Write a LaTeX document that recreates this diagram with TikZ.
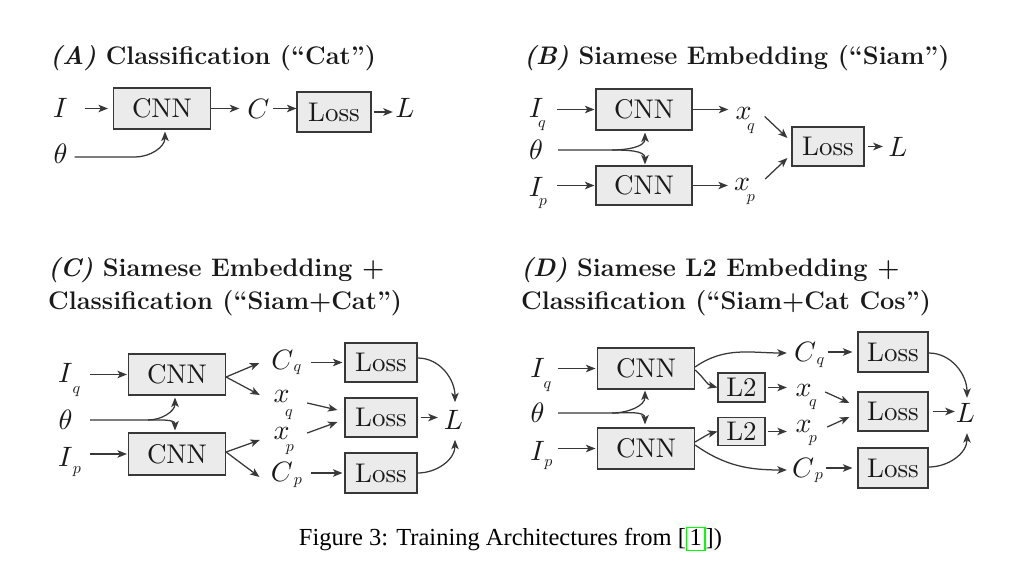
\documentclass[tikz,border=0pt]{standalone}
\usepackage{fontspec}
\newfontfamily\capfont{Liberation Serif}
\newfontfamily\boxfont{lmroman10-regular}[Extension=.otf]
\DeclareFontFamily{OML}{cmm}{\skewchar\font'177}
\DeclareFontShape{OML}{cmm}{m}{it}{<-> cmmi10}{}
\usetikzlibrary{arrows.meta}
\definecolor{ln}{HTML}{383838}
\definecolor{bx}{HTML}{EBEBEB}
\definecolor{tx}{HTML}{1A1A1A}
\definecolor{lnk}{HTML}{00FF00}
\newcommand\mfont{\fontsize{28}{30}\selectfont}
\newcommand\sfont{\fontsize{16}{18}\selectfont}
\newcommand\bfont{\boxfont\fontsize{27}{30}\selectfont}
\newcommand\tfont{\fontsize{25.4}{30}\selectfont\bfseries}
\tikzset{
  box/.style={draw=ln, fill=bx, line width=1.15pt, inner sep=0pt, font=\bfont, text=tx},
  cnn/.style={box, minimum width=97pt, minimum height=41pt},
  loss/.style={box, minimum width=72pt, minimum height=39pt},
  ltwo/.style={box, minimum width=47pt, minimum height=29pt},
  sym/.style={inner sep=0pt, font=\mfont, text=tx},
  sub/.style={inner sep=0pt, font=\sfont, text=tx},
  arr/.style={draw=ln, line width=1.25pt, -{Stealth[length=9.5pt,width=7.5pt,inset=2.5pt]}},
  ttl/.style={inner sep=0pt, anchor=base west, font=\tfont, text=tx},
}
\begin{document}
\begin{tikzpicture}[x=1pt,y=-1pt]
\fill[white] (0,0) rectangle (1025,580);
\useasboundingbox (0,0) rectangle (1025,580);

% ---------------- titles
\node[ttl] (tA) at (50,65) {\textit{(A)} Classification (``Cat'')};
\node[ttl] (tB) at (524,65) {\textit{(B)} Siamese Embedding (``Siam'')};
\node[ttl] (tC1) at (48,276.5) {\textit{(C)} Siamese Embedding +};
\node[ttl] (tC2) at (48,309.5) {Classification (``Siam+Cat'')};
\node[ttl] (tD1) at (521,276.5) {\textit{(D)} Siamese L2 Embedding +};
\node[ttl] (tD2) at (521,309.5) {Classification (``Siam+Cat Cos'')};

% ---------------- panel A
\node[sym] (IA) at (60.5,108) {$I$};
\node[cnn] (cnnA) at (162,108.5) {CNN};
\node[sym] (CA) at (258.5,108.5) {$C$};
\node[loss, minimum width=74pt, minimum height=40pt] (lossA) at (334,112) {Loss};
\node[sym] (LA) at (405,107.5) {$L$};
\node[sym] (thA) at (60.5,153.5) {$\theta$};
\coordinate (spA) at (135,157);
\draw[arr, shorten <=17pt, shorten >=5pt] (cnnA.west -| IA.east) -- (cnnA.west);
\draw[arr, shorten >=8pt] (cnnA.east) -- (cnnA.east -| CA.west);
\draw[arr, shorten <=3pt] (CA.east) -- (CA.east -| lossA.west);
\draw[arr, shorten <=2pt, shorten >=2.5pt] (lossA.east) -- (lossA.east -| LA.west);
\draw[arr] ([shift={(7,3.5)}]thA.east) -- (spA) to[out=0,in=-90] ([shift={(3,2)}]cnnA.south);

% ---------------- panel B
\node[sym] (IqB) at (536,108) {$I$};
\node[sub] (IqBs) at (542,125.5) {$q$};
\node[cnn, minimum width=96pt] (cnnB1) at (644,109.5) {CNN};
\node[sym] (xqB) at (743.5,113.5) {$x$};
\node[sub] (xqBs) at (751,128.5) {$q$};
\node[loss] (lossB) at (828,146.5) {Loss};
\node[sym] (LB) at (898,147) {$L$};
\node[sym] (thB) at (536,150) {$\theta$};
\node[sym] (IpB) at (536,187) {$I$};
\node[sub] (IpBs) at (543,203.5) {$p$};
\node[cnn, minimum width=96pt, minimum height=39pt] (cnnB2) at (644,185.5) {CNN};
\node[sym] (xpB) at (742,184) {$x$};
\node[sub] (xpBs) at (751,200) {$p$};
\coordinate (spB) at (612,150);
\draw[arr, shorten <=14pt, shorten >=1pt] (cnnB1.west -| IqB.east) -- (cnnB1.west);
\draw[arr, shorten <=14pt, shorten >=1pt] (cnnB2.west -| IpB.east) -- (cnnB2.west);
\draw[arr, shorten >=7pt] (cnnB1.east) -- (cnnB1.east -| xqB.west);
\draw[arr, shorten >=6pt] (cnnB2.east) -- (cnnB2.east -| xpB.west);
\draw[arr] ([shift={(13,3)}]xqB.east) -- ([shift={(-4,-8.5)}]lossB.west);
\draw[arr] ([shift={(15,-5)}]xpB.east) -- ([shift={(-4,11.5)}]lossB.west);
\draw[arr, shorten <=3pt, shorten >=5.5pt] (lossB.east) -- (lossB.east -| LB.west);
\draw[arr, shorten <=15pt] (thB.east) -- (spB) to[out=0,in=-90] ([shift={(1,2)}]cnnB1.south);
\draw[arr] (spB) to[out=0,in=90] ([shift={(1,-1)}]cnnB2.north);

% ---------------- panel C
\node[sym] (IqC) at (65.5,373) {$I$};
\node[sub] (IqCs) at (76.5,391.5) {$q$};
\node[cnn] (cnnC1) at (177,374.5) {CNN};
\node[sym] (thC) at (65.5,420) {$\theta$};
\node[sym] (IpC) at (65.5,457) {$I$};
\node[sub] (IpCs) at (77,472) {$p$};
\node[cnn, minimum height=42pt] (cnnC2) at (177,454) {CNN};
\node[sym] (CqC) at (282.5,360) {$C$};
\node[sub] (CqCs) at (297.5,369.5) {$q$};
\node[sym] (xqC) at (281.5,396.5) {$x$};
\node[sub] (xqCs) at (289,414.5) {$q$};
\node[sym] (xpC) at (281.5,433.5) {$x$};
\node[sub] (xpCs) at (290,450) {$p$};
\node[sym] (CpC) at (282,472) {$C$};
\node[sub] (CpCs) at (298,482.5) {$p$};
\node[loss] (lossC1) at (381,362.5) {Loss};
\node[loss] (lossC2) at (381,417.5) {Loss};
\node[loss, minimum height=40pt] (lossC3) at (381,473) {Loss};
\node[sym] (LC) at (453.5,420) {$L$};
\coordinate (spC) at (148,420);
\draw[arr, shorten <=17pt, shorten >=1pt] (cnnC1.west -| IqC.east) -- (cnnC1.west);
\draw[arr, shorten <=17pt, shorten >=1pt] (cnnC2.west -| IpC.east) -- (cnnC2.west);
\draw[arr, shorten <=17.5pt] (thC.east) -- (spC) to[out=0,in=-90] ([shift={(-2,2)}]cnnC1.south);
\draw[arr] (spC) to[out=0,in=90] ([shift={(-2,-2)}]cnnC2.north);
\draw[arr] ([shift={(0,2.5)}]cnnC1.east) -- ([shift={(-12,3)}]CqC.west);
\draw[arr] ([shift={(0,2.5)}]cnnC1.east) -- ([shift={(-13.5,-1.5)}]xqC.west);
\draw[arr] ([shift={(0,-2)}]cnnC2.east) -- ([shift={(-13.5,6.5)}]xpC.west);
\draw[arr] ([shift={(0,-2)}]cnnC2.east) -- ([shift={(-11.3,5)}]CpC.west);
\draw[arr, shorten <=9pt, shorten >=2pt] (lossC1.west -| CqCs.east) -- (lossC1.west);
\draw[arr, shorten <=8.5pt, shorten >=2pt] (lossC3.west -| CpCs.east) -- (lossC3.west);
\draw[arr] ([shift={(17.5,6.5)}]xqC.east) -- ([shift={(-7,-7.5)}]lossC2.west);
\draw[arr] ([shift={(17.5,-0.5)}]xpC.east) -- ([shift={(-7,4.5)}]lossC2.west);
\draw[arr, shorten <=3pt, shorten >=6pt] (lossC2.east) -- (lossC2.east -| LC.west);
\draw[arr] ([shift={(0,-4.5)}]lossC1.east) to[out=0,in=90] ([shift={(1.5,-8)}]LC.north);
\draw[arr] (lossC3.east) to[out=0,in=-90] ([shift={(1.5,10)}]LC.south);

% ---------------- panel D
\node[sym] (IqD) at (537.5,368) {$I$};
\node[sub] (IqDs) at (547.5,386.5) {$q$};
\node[cnn] (cnnD1) at (646,368.5) {CNN};
\node[sym] (thD) at (537.5,413) {$\theta$};
\node[sym] (IpD) at (537.5,451) {$I$};
\node[sub] (IpDs) at (548.5,465) {$p$};
\node[cnn] (cnnD2) at (646,448.5) {CNN};
\node[ltwo] (l2a) at (741.5,387.5) {L2};
\node[ltwo, minimum height=28pt] (l2b) at (741.5,431.5) {L2};
\node[sym] (CqD) at (805,352) {$C$};
\node[sub] (CqDs) at (820.5,363) {$q$};
\node[sym] (xqD) at (803.5,390) {$x$};
\node[sub] (xqDs) at (813,405) {$q$};
\node[sym] (xpD) at (803.5,426) {$x$};
\node[sub] (xpDs) at (813,440.5) {$p$};
\node[sym] (CpD) at (803,468) {$C$};
\node[sub] (CpDs) at (819,478) {$p$};
\node[loss, minimum width=70pt, minimum height=40pt] (lossD1) at (893,352) {Loss};
\node[loss, minimum width=70pt] (lossD2) at (893,411.5) {Loss};
\node[loss, minimum width=70pt, minimum height=40pt] (lossD3) at (893,468) {Loss};
\node[sym] (LD) at (965.5,413) {$L$};
\coordinate (spD) at (612,413);
\draw[arr, shorten <=13pt, shorten >=1.5pt] (cnnD1.west -| IqD.east) -- (cnnD1.west);
\draw[arr, shorten <=13pt, shorten >=1.5pt] (cnnD2.west -| IpD.east) -- (cnnD2.west);
\draw[arr, shorten <=13.5pt] (thD.east) -- (spD) to[out=0,in=-90] ([shift={(-1,1)}]cnnD1.south);
\draw[arr] (spD) to[out=0,in=90] ([shift={(-1,-3)}]cnnD2.north);
\draw[arr] ([shift={(0,-1.5)}]cnnD1.east) to[out=35,in=180] ([shift={(-7,1)}]CqD.west);
\draw[arr] ([shift={(0,1.5)}]cnnD1.east) to[out=-40,in=165] (l2a.west);
\draw[arr] ([shift={(0,-6.5)}]cnnD2.east) to[out=30,in=195] (l2b.west);
\draw[arr] ([shift={(0,-3.5)}]cnnD2.east) to[out=-35,in=180] ([shift={(-5,2)}]CpD.west);
\draw[arr, shorten <=2pt, shorten >=8.5pt] (l2a.east) -- (l2a.east -| xqD.west);
\draw[arr, shorten <=2pt, shorten >=8.5pt] (l2b.east) -- (l2b.east -| xpD.west);
\draw[arr, shorten <=3pt, shorten >=5pt] (lossD1.west -| CqDs.east) -- (lossD1.west);
\draw[arr, shorten <=3pt, shorten >=5pt] (lossD3.west -| CpDs.east) -- (lossD3.west);
\draw[arr] ([shift={(13.5,2)}]xqD.east) -- ([shift={(-8,-8.5)}]lossD2.west);
\draw[arr] ([shift={(15.5,1)}]xpD.east) -- ([shift={(-8,5.5)}]lossD2.west);
\draw[arr, shorten <=4pt, shorten >=1pt] (lossD2.east) -- (lossD2.east -| LD.west);
\draw[arr] ([shift={(0,1)}]lossD1.east) to[out=0,in=90] ([shift={(1.5,-5.4)}]LD.north);
\draw[arr] ([shift={(0,-1)}]lossD3.east) to[out=0,in=-90] ([shift={(1.5,10.4)}]LD.south);

% ---------------- caption
\node[inner sep=0pt, anchor=base, font=\capfont\fontsize{24.5}{28}\selectfont, text=black] (cap) at (510.5,545)
  {Figure 3: Training Architectures from [{\setlength\fboxsep{0.5pt}\setlength\fboxrule{1.5pt}\fcolorbox{lnk}{white}{\rule[-4pt]{0pt}{18pt}\kern1.8pt 1\kern1.8pt}}])};
\end{tikzpicture}
\end{document}
